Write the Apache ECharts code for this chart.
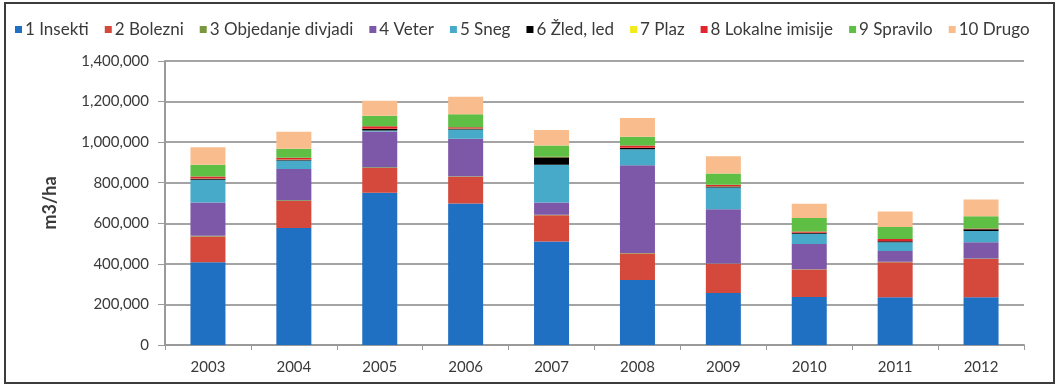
<!DOCTYPE html>
<html>
<head>
<meta charset="utf-8">
<script src="https://cdn.jsdelivr.net/npm/echarts@6/dist/echarts.min.js"></script>
<style>
  html, body { margin: 0; padding: 0; background: #fff; }
  #chart { width: 1059px; height: 387px; }
</style>
</head>
<body>
<div id="chart"></div>
<script>
// Years on the category axis
const years = ['2003', '2004', '2005', '2006', '2007', '2008', '2009', '2010', '2011', '2012'];

// Volumes per cause (m3/ha), bottom of the stack first
const insekti   = [408000, 577000, 750000, 698000, 510000, 321000, 256000, 237000, 236000, 236000];
const bolezni   = [127000, 133000, 122000, 131000, 130000, 130000, 144000, 135000, 172000, 188000];
const objedanje = [4000, 3000, 4000, 3000, 2000, 2000, 2000, 2000, 2000, 3000];
const veter     = [164000, 154000, 176000, 185000, 61000, 433000, 267000, 124000, 53000, 79000];
const sneg      = [112000, 42000, 5000, 45000, 186000, 79000, 108000, 50000, 43000, 56000];
const zled      = [5000, 4000, 8000, 4000, 37000, 6000, 4000, 4000, 5000, 8000];
const plaz      = [1000, 1000, 1000, 1000, 1000, 1000, 1000, 1000, 1000, 1000];
const imisije   = [10000, 9000, 12000, 7000, 1000, 11000, 8000, 7000, 10000, 3000];
const spravilo  = [58000, 45000, 52000, 63000, 55000, 43000, 56000, 66000, 60000, 61000];
const drugo     = [86000, 83000, 74000, 87000, 77000, 93000, 84000, 70000, 76000, 82000];

// Value axis ticks
const yMin = 0, yMax = 1400000, yStep = 200000;

const seriesDefs = [
  { name: '1 Insekti',            data: insekti,   color: '#1f6fc2' },
  { name: '2 Bolezni',            data: bolezni,   color: '#d4493c' },
  { name: '3 Objedanje divjadi',  data: objedanje, color: '#7a963e' },
  { name: '4 Veter',              data: veter,     color: '#7e58a8' },
  { name: '5 Sneg',               data: sneg,      color: '#46aac8' },
  { name: '6 Žled, led',          data: zled,      color: '#000000' },
  { name: '7 Plaz',               data: plaz,      color: '#f2ea1a' },
  { name: '8 Lokalne imisije',    data: imisije,   color: '#e0252c' },
  { name: '9 Spravilo',           data: spravilo,  color: '#5fbf45' },
  { name: '10 Drugo',             data: drugo,     color: '#f9bd8d' }
];

const FONT = 'Lato, "Open Sans", sans-serif';
const chart = echarts.init(document.getElementById('chart'), null, { renderer: 'canvas' });

chart.setOption({
  animation: false,
  backgroundColor: '#ffffff',
  textStyle: { fontFamily: FONT },
  graphic: [{
    type: 'rect',
    silent: true,
    shape: { x: 5, y: 3, width: 1049, height: 380 },
    style: { fill: 'none', stroke: '#3c3c3c', lineWidth: 2 }
  }],
  legend: {
    top: 16,
    left: 10,
    icon: 'rect',
    itemWidth: 7,
    itemHeight: 7,
    itemGap: 16,
    textStyle: { fontFamily: FONT, fontSize: 17, color: '#3a3a3a', padding: [0, 0, 0, -2] },
    data: seriesDefs.map(s => s.name)
  },
  grid: { left: 165, right: 35, top: 61, bottom: 42, containLabel: false },
  xAxis: {
    type: 'category',
    data: years,
    axisLine: { lineStyle: { color: '#9a9a9a', width: 2 } },
    axisTick: { show: true, length: 5, lineStyle: { color: '#9a9a9a', width: 1 } },
    axisLabel: { color: '#3a3a3a', fontSize: 15, fontFamily: FONT, margin: 15 }
  },
  yAxis: {
    type: 'value',
    min: yMin,
    max: yMax,
    interval: yStep,
    name: 'm3/ha',
    nameLocation: 'middle',
    nameRotate: 90,
    nameGap: 106,
    nameTextStyle: { fontFamily: FONT, fontSize: 18, fontWeight: 'bold', color: '#3a3a3a' },
    axisLine: { show: true, lineStyle: { color: '#9a9a9a', width: 2 } },
    axisTick: { show: true, length: 7, lineStyle: { color: '#9a9a9a', width: 1 } },
    splitLine: { lineStyle: { color: '#a4a4a4', width: 2 } },
    axisLabel: {
      color: '#3a3a3a', fontSize: 15, fontFamily: FONT, margin: 16,
      formatter: v => v.toLocaleString('en-US')
    }
  },
  series: seriesDefs.map(s => ({
    name: s.name,
    type: 'bar',
    stack: 'total',
    barWidth: 35,
    data: s.data,
    itemStyle: { color: s.color },
    emphasis: { disabled: true }
  }))
});
</script>
</body>
</html>
